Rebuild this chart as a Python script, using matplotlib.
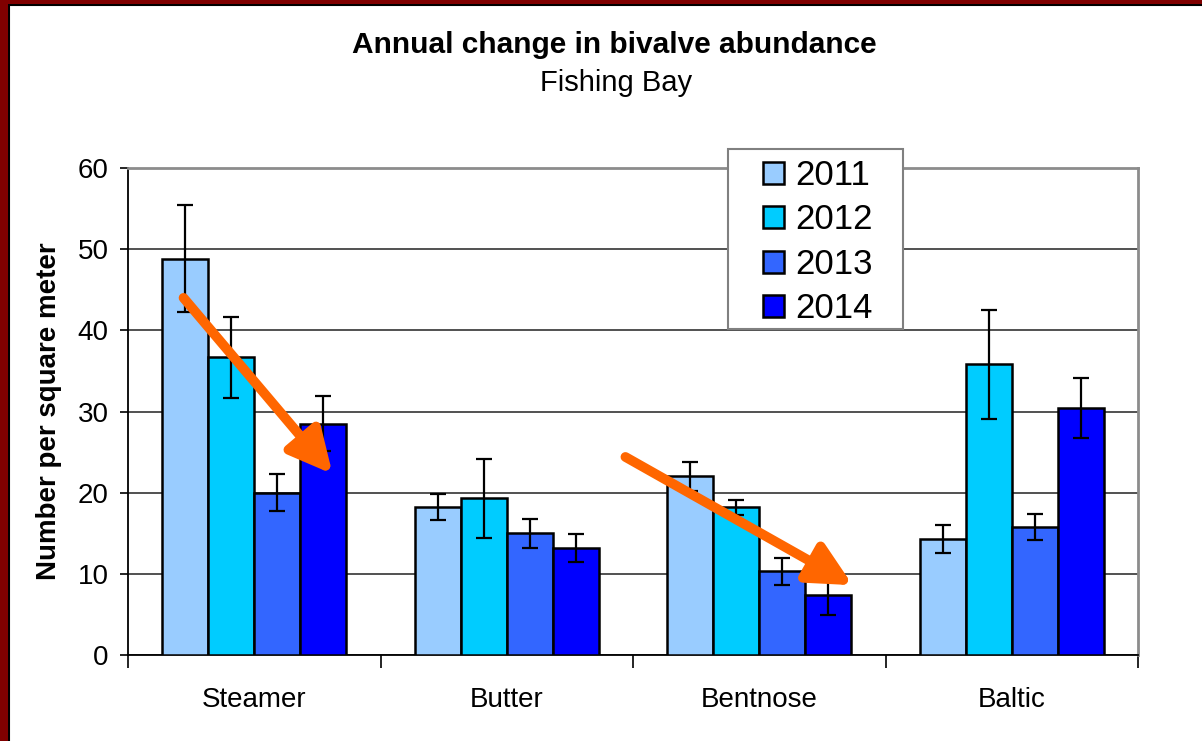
import matplotlib
matplotlib.use("Agg")
import matplotlib.pyplot as plt
import numpy as np
from matplotlib.patches import Rectangle

plt.rcParams["font.family"] = ["Liberation Sans", "DejaVu Sans"]

SPECIES = ["Steamer", "Butter", "Bentnose", "Baltic"]
YEARS = ["2011", "2012", "2013", "2014"]
COLORS = ["#99CCFF", "#00CCFF", "#3366FF", "#0000FF"]

# mean abundance per year across species
Y2011 = [48.8, 18.2, 22.0, 14.3]
Y2012 = [36.7, 19.3, 18.2, 35.8]
Y2013 = [20.0, 15.0, 10.3, 15.8]
Y2014 = [28.5, 13.2, 7.4, 30.4]

# error (+/-)
E2011 = [6.6, 1.6, 1.8, 1.7]
E2012 = [5.0, 4.9, 0.9, 6.7]
E2013 = [2.3, 1.8, 1.7, 1.6]
E2014 = [3.4, 1.7, 2.5, 3.7]

# orange trend arrows (start, tip) in data coordinates
ARROWS = [((-0.28, 44.0), (0.31, 22.3)),
          ((1.47, 24.4), (2.37, 8.6))]

W, H = 1202, 741


def main():
    fig = plt.figure(figsize=(W / 100, H / 100), dpi=100)
    ax = fig.add_axes([128 / W, 1 - 655 / H, 1010 / W, 487 / H])

    x = np.arange(len(SPECIES))
    w = 0.182
    series = [(Y2011, E2011), (Y2012, E2012), (Y2013, E2013), (Y2014, E2014)]
    handles = []
    for j, (vals, errs) in enumerate(series):
        pos = x + (j - 1.5) * w
        b = ax.bar(pos, vals, w, color=COLORS[j], edgecolor="black", linewidth=1.8,
                   label=YEARS[j], zorder=3)
        handles.append(b)
        ax.errorbar(pos, vals, yerr=errs, fmt="none", ecolor="black",
                    elinewidth=1.6, capsize=6, capthick=1.6, zorder=4)

    for (x0, y0), (x1, y1) in ARROWS:
        ax.annotate("", xy=(x1, y1), xytext=(x0, y0),
                    arrowprops=dict(arrowstyle="-|>,head_length=2.6,head_width=1.3",
                                    color="#FF6600", lw=7, shrinkA=0, shrinkB=0),
                    zorder=5)

    ax.set_xlim(-0.5, 3.5)
    ax.set_ylim(0, 60)
    ax.set_yticks(np.arange(0, 61, 10))
    ax.tick_params(axis="y", labelsize=20, length=6, width=1.2, pad=8, direction="out")
    ax.set_xticks(x)
    ax.set_xticklabels(SPECIES, fontsize=20)
    ax.set_xticks(np.arange(-0.5, 3.6, 1), minor=True)
    ax.tick_params(axis="x", which="major", length=0, pad=23)
    ax.tick_params(axis="x", which="minor", length=9, width=1.2, direction="out")
    ax.yaxis.grid(True, color="#333333", linewidth=1.2, zorder=0)
    ax.set_axisbelow(True)
    for s in ["top", "right"]:
        ax.spines[s].set_color("#8c8c8c")
        ax.spines[s].set_linewidth(2)
    for s in ["left", "bottom"]:
        ax.spines[s].set_color("black")
        ax.spines[s].set_linewidth(1.3)

    ax.set_ylabel("Number per square meter", fontsize=20, fontweight="bold", labelpad=11)

    # legend box drawn separately, entries in a frameless figure legend
    fig.patches.append(Rectangle((728 / W, 1 - 329 / H), 175 / W, 180 / H,
                                 transform=fig.transFigure, facecolor="white",
                                 edgecolor="#808080", linewidth=1.5, zorder=4))
    leg = fig.legend(handles=handles, labels=YEARS, loc="upper left",
                     bbox_to_anchor=(763 / W, 1 - 159 / H), borderaxespad=0,
                     fontsize=25, frameon=False, borderpad=0,
                     handlelength=0.6, handleheight=0.6, handletextpad=0.32,
                     labelspacing=0.33)
    leg.set_zorder(5)

    fig.text(614 / W, 1 - 45 / H, "Annual change in bivalve abundance", ha="center",
             va="center", fontsize=21.5, fontweight="bold")
    fig.text(616 / W, 1 - 83 / H, "Fishing Bay", ha="center", va="center", fontsize=21)

    # dark red frame on left and top
    fig.patches.append(Rectangle((0, 0), 8 / W, 1, transform=fig.transFigure,
                                 facecolor="#800000", edgecolor="none", zorder=6))
    fig.patches.append(Rectangle((0, 1 - 4 / H), 1, 4 / H, transform=fig.transFigure,
                                 facecolor="#800000", edgecolor="none", zorder=6))
    fig.lines.append(plt.Line2D([8.5 / W, 8.5 / W], [0, 1 - 4 / H],
                                transform=fig.transFigure, color="black", lw=1.5, zorder=6))
    fig.lines.append(plt.Line2D([8.5 / W, 1], [1 - 4.5 / H, 1 - 4.5 / H],
                                transform=fig.transFigure, color="black", lw=1.5, zorder=6))

    fig.savefig("out.png", dpi=100)


if __name__ == "__main__":
    main()
